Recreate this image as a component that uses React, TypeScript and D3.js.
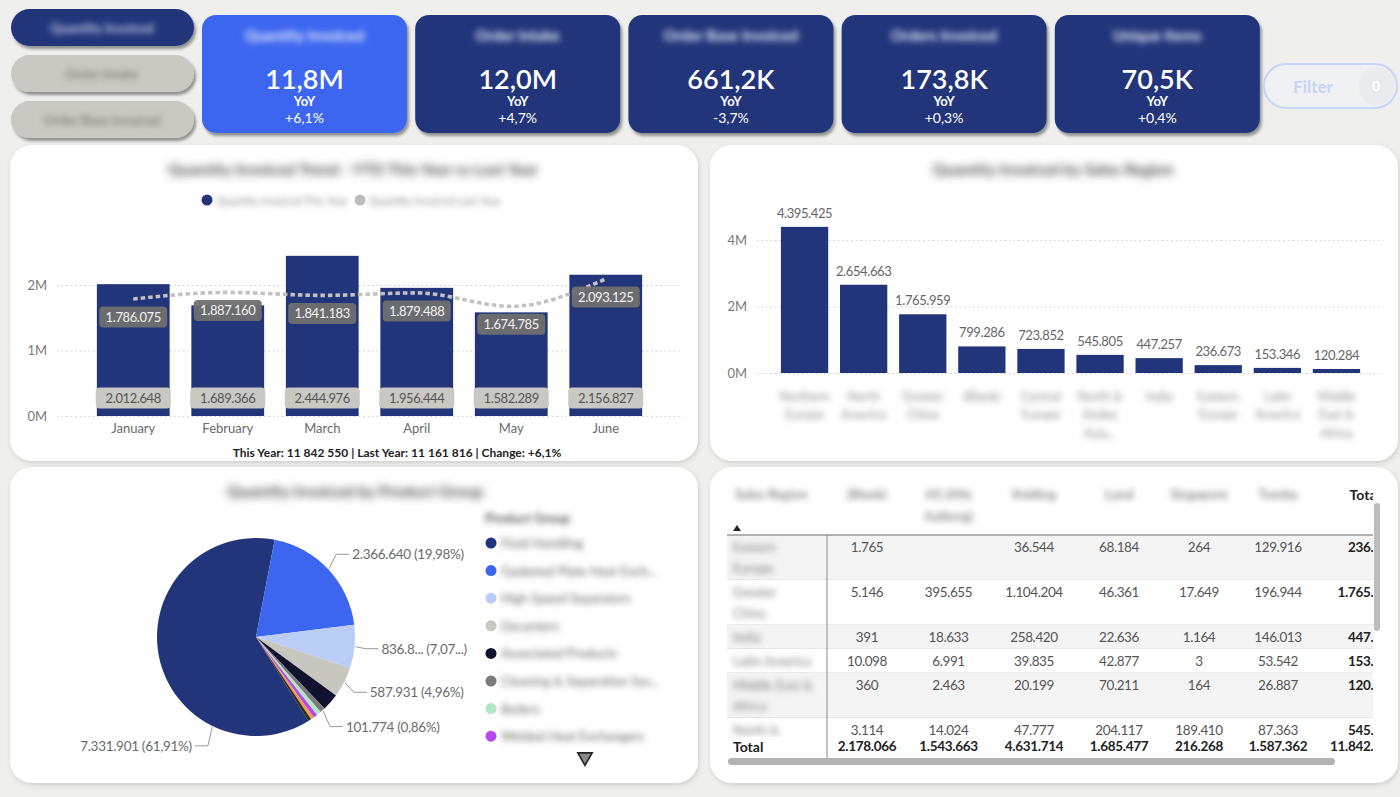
import * as d3 from "d3";
import React, { useEffect, useRef } from "react";

// Slicer buttons and KPI cards
const measureButtons = ["Quantity Invoiced", "Order Intake", "Order Base Invoiced"];
const kpiTitles = ["Quantity Invoiced", "Order Intake", "Order Base Invoiced", "Orders Invoiced", "Unique Items"];
const kpiValues = ["11,8M", "12,0M", "661,2K", "173,8K", "70,5K"];
const kpiChanges = ["+6,1%", "+4,7%", "-3,7%", "+0,3%", "+0,4%"];

// Monthly trend, this year vs last year
const months = ["January", "February", "March", "April", "May", "June"];
const thisYear = [2012648, 1689366, 2444976, 1956444, 1582289, 2156827];
const lastYear = [1786075, 1887160, 1841183, 1879488, 1674785, 2093125];

// Quantity by sales region
const regions = [
  "Northern Europe",
  "North America",
  "Greater China",
  "(Blank)",
  "Central Europe",
  "North & Andes Asia Pacific",
  "India",
  "Eastern Europe",
  "Latin America",
  "Middle East & Africa",
];
const regionValues = [4395425, 2654663, 1765959, 799286, 723852, 545805, 447257, 236673, 153346, 120284];

// Quantity by product group
const productGroups = [
  "Fluid Handling",
  "Gasketed Plate Heat Exchangers",
  "High Speed Separators",
  "Decanters",
  "Associated Products",
  "Cleaning & Separation Systems",
  "Boilers",
  "Welded Heat Exchangers",
  "Marine Systems",
  "Spare Parts",
];
const productValues = [7331901, 2366640, 836850, 587931, 331000, 101774, 86000, 82000, 60000, 58454];
const labelledGroups = ["Fluid Handling", "Gasketed Plate Heat Exchangers", "High Speed Separators", "Decanters", "Cleaning & Separation Systems"];

// Region x site matrix
const sites = ["(Blank)", "AS (Alfa\nAalborg)", "Kolding", "Lund", "Singapore", "Tumba"];
const tableRegions = ["Eastern\nEurope", "Greater\nChina", "India", "Latin America", "Middle East &\nAfrica", "North &\nAndes"];
const tableValues: (number | null)[][] = [
  [1765, null, 36544, 68184, 264, 129916],
  [5146, 395655, 1104204, 46361, 17649, 196944],
  [391, 18633, 258420, 22636, 1164, 146013],
  [10098, 6991, 39835, 42877, 3, 53542],
  [360, 2463, 20199, 70211, 164, 26887],
  [3114, 14024, 47777, 204117, 189410, 87363],
];
const siteTotals = [2178066, 1543663, 4631714, 1685477, 216268, 1587362];

const FONT = "Lato, 'Open Sans', 'DejaVu Sans', sans-serif";
const NARROW = "'Liberation Sans Narrow', Lato, sans-serif";
const NAVY = "#22357a";
const BLUE = "#3d66f0";
const productColors = ["#22357a", "#3d66f0", "#b9cdf6", "#c7c7c0", "#10122e", "#7b7b7b", "#b3e5c8", "#b847ee", "#f2a23a", "#2b2b2b"];

const dotLocale = d3.formatLocale({ decimal: ",", thousands: ".", grouping: [3], currency: ["", ""] });
const spaceLocale = d3.formatLocale({ decimal: ",", thousands: " ", grouping: [3], currency: ["", ""] });
const fmtNum = dotLocale.format(",d");
const fmtPct = dotLocale.format(".2%");
const fmtChange = dotLocale.format("+.1%");
const fmtSpace = spaceLocale.format(",d");

type Svg = d3.Selection<SVGSVGElement, unknown, null, undefined>;

const wrapWords = (label: string, maxChars: number, maxLines: number) => {
  const lines: string[] = [];
  label.split(" ").forEach((w) => {
    const last = lines[lines.length - 1];
    if (last !== undefined && (last + " " + w).length <= maxChars) lines[lines.length - 1] = last + " " + w;
    else lines.push(w);
  });
  if (lines.length > maxLines) {
    const cut = lines.slice(0, maxLines);
    cut[maxLines - 1] += "...";
    return cut;
  }
  return lines;
};

const panel = (g: d3.Selection<SVGGElement, unknown, null, undefined>, x: number, y: number) =>
  g
    .append("rect")
    .attr("x", x)
    .attr("y", y)
    .attr("width", 688)
    .attr("height", 316)
    .attr("rx", 22)
    .attr("fill", "#fff")
    .attr("filter", "url(#panelShadow)");

const drawHeader = (svg: Svg) => {
  const g = svg.append("g");

  measureButtons.forEach((label, i) => {
    const top = 9 + i * 46;
    g.append("rect")
      .attr("x", 11)
      .attr("y", top)
      .attr("width", 183)
      .attr("height", 37)
      .attr("rx", 18.5)
      .attr("fill", i === 0 ? NAVY : "#cac8c2")
      .attr("filter", "url(#cardShadow)");
    g.append("text")
      .attr("x", 102)
      .attr("y", top + 19)
      .attr("text-anchor", "middle")
      .attr("dominant-baseline", "central")
      .attr("font-size", 13)
      .attr("font-weight", 700)
      .attr("fill", i === 0 ? "#c4cbe4" : "#85837e")
      .attr("filter", "url(#blur)")
      .text(label);
  });

  kpiTitles.forEach((title, i) => {
    const left = 202 + i * 213.2;
    const cx = left + 102.5;
    g.append("rect")
      .attr("x", left)
      .attr("y", 15)
      .attr("width", 205)
      .attr("height", 118)
      .attr("rx", 14)
      .attr("fill", i === 0 ? BLUE : NAVY)
      .attr("filter", "url(#cardShadow)");
    const t = (y: number, size: number, weight: number, text: string) =>
      g
        .append("text")
        .attr("x", cx)
        .attr("y", y)
        .attr("text-anchor", "middle")
        .attr("dominant-baseline", "central")
        .attr("font-size", size)
        .attr("font-weight", weight)
        .attr("fill", "#fff")
        .text(text);
    t(35, 15, 700, title).attr("fill", "#e8ecf8").attr("filter", "url(#blur)");
    t(78, 27, 600, kpiValues[i]);
    t(101, 13, 700, "YoY");
    t(117, 14, 400, kpiChanges[i]);
  });

  g.append("rect")
    .attr("x", 1264)
    .attr("y", 64)
    .attr("width", 133)
    .attr("height", 44)
    .attr("rx", 22)
    .attr("fill", "#f0f1f2")
    .attr("stroke", "#c6d4f7")
    .attr("stroke-width", 2);
  g.append("rect").attr("x", 1359).attr("y", 67).attr("width", 35).attr("height", 38).attr("rx", 17).attr("fill", "#e9ebef");
  g.append("text")
    .attr("x", 1313)
    .attr("y", 86)
    .attr("text-anchor", "middle")
    .attr("dominant-baseline", "central")
    .attr("font-size", 17)
    .attr("font-weight", 700)
    .attr("fill", "#c6d4f7")
    .text("Filter");
  g.append("text")
    .attr("x", 1376)
    .attr("y", 85)
    .attr("text-anchor", "middle")
    .attr("dominant-baseline", "central")
    .attr("font-size", 14)
    .attr("font-weight", 700)
    .attr("fill", "#fff")
    .text("0");
};

const blurredTitle = (g: d3.Selection<SVGGElement, unknown, null, undefined>, x: number, y: number, text: string) =>
  g
    .append("text")
    .attr("x", x)
    .attr("y", y)
    .attr("text-anchor", "middle")
    .attr("dominant-baseline", "central")
    .attr("font-size", 16)
    .attr("font-weight", 700)
    .attr("fill", "#4a4a4a")
    .attr("filter", "url(#blurHeavy)")
    .text(text);

const drawTrend = (svg: Svg) => {
  const g = svg.append("g");
  panel(g, 10, 145);
  blurredTitle(g, 353, 168, "Quantity Invoiced Trend - YTD This Year vs Last Year");

  [
    { x: 207, color: NAVY, text: "Quantity Invoiced This Year" },
    { x: 360, color: "#bdbdbd", text: "Quantity Invoiced Last Year" },
  ].forEach((l) => {
    g.append("circle").attr("cx", l.x).attr("cy", 200).attr("r", 5.5).attr("fill", l.color);
    g.append("text")
      .attr("x", l.x + 9)
      .attr("y", 200)
      .attr("dominant-baseline", "central")
      .attr("font-size", 11)
      .attr("fill", "#8a8a8a")
      .attr("filter", "url(#blur)")
      .text(l.text);
  });

  const x = d3.scaleBand<string>().domain(months).range([86, 653]).paddingInner(0.23).paddingOuter(0.115);
  const y = d3.scaleLinear().domain([0, 2e6]).range([416, 285]);
  const bw = x.bandwidth();
  const cxOf = (m: string) => (x(m) ?? 0) + bw / 2;

  g.append("g")
    .attr("transform", "translate(57,0)")
    .call(
      d3
        .axisLeft(y)
        .ticks(2)
        .tickSize(-626)
        .tickPadding(10)
        .tickFormat((d) => `${+d / 1e6}M`)
    )
    .attr("font-family", FONT)
    .attr("font-size", 13)
    .call((a) => a.select(".domain").remove())
    .call((a) => a.selectAll("line").attr("stroke", "#cfcfcf").attr("stroke-dasharray", "1.5 3"))
    .call((a) => a.selectAll("text").attr("fill", "#7a7a7a"));

  g.append("g")
    .attr("transform", "translate(0,416)")
    .call(d3.axisBottom(x).tickSize(0).tickPadding(8))
    .attr("font-family", FONT)
    .attr("font-size", 13)
    .call((a) => a.select(".domain").remove())
    .call((a) => a.selectAll("text").attr("fill", "#6a6a6a"));

  g.append("g")
    .selectAll("rect")
    .data(thisYear)
    .join("rect")
    .attr("x", (_, i) => x(months[i]) ?? 0)
    .attr("y", (d) => y(d))
    .attr("width", bw)
    .attr("height", (d) => y(0) - y(d))
    .attr("fill", NAVY);

  const line = d3
    .line<number>()
    .x((_, i) => cxOf(months[i]))
    .y((d) => y(d))
    .curve(d3.curveMonotoneX);
  g.append("path")
    .attr("d", line(lastYear))
    .attr("fill", "none")
    .attr("stroke", "#c2c2c2")
    .attr("stroke-width", 3.6)
    .attr("stroke-dasharray", "4.5 3");

  // last-year value tags hang just under the dotted line
  lastYear.forEach((v, i) => {
    const cx = cxOf(months[i]);
    const cy = y(v) + 18;
    g.append("rect").attr("x", cx - 34).attr("y", cy - 10.5).attr("width", 68).attr("height", 21).attr("rx", 4).attr("fill", "#707070").attr("opacity", 0.95);
    g.append("text")
      .attr("x", cx)
      .attr("y", cy)
      .attr("text-anchor", "middle")
      .attr("dominant-baseline", "central")
      .attr("font-size", 13)
      .attr("letter-spacing", -0.4)
      .attr("fill", "#f4f4f4")
      .text(fmtNum(v));
  });

  // this-year value tags sit at the foot of each bar
  thisYear.forEach((v, i) => {
    const cx = cxOf(months[i]);
    const cy = y(0) - 18;
    g.append("rect").attr("x", cx - 37.5).attr("y", cy - 10.5).attr("width", 75).attr("height", 21).attr("rx", 4).attr("fill", "#c9c8c3");
    g.append("text")
      .attr("x", cx)
      .attr("y", cy)
      .attr("text-anchor", "middle")
      .attr("dominant-baseline", "central")
      .attr("font-size", 13)
      .attr("letter-spacing", -0.4)
      .attr("fill", "#555")
      .text(fmtNum(v));
  });

  const tyTotal = d3.sum(thisYear);
  const lyTotal = d3.sum(lastYear);
  g.append("text")
    .attr("x", 397)
    .attr("y", 452)
    .attr("text-anchor", "middle")
    .attr("dominant-baseline", "central")
    .attr("font-family", NARROW)
    .attr("font-size", 12)
    .attr("font-weight", 700)
    .attr("fill", "#222")
    .text(`This Year: ${fmtSpace(tyTotal)} | Last Year: ${fmtSpace(lyTotal)} | Change: ${fmtChange(tyTotal / lyTotal - 1)}`);
};

const drawRegions = (svg: Svg) => {
  const g = svg.append("g");
  panel(g, 710, 145);
  blurredTitle(g, 1053, 168, "Quantity Invoiced by Sales Region");

  const x = d3.scaleBand<string>().domain(regions).range([775, 1366]).paddingInner(0.2).paddingOuter(0.1);
  const y = d3.scaleLinear().domain([0, 4e6]).range([373, 240]);
  const bw = x.bandwidth();

  g.append("g")
    .attr("transform", "translate(757,0)")
    .call(
      d3
        .axisLeft(y)
        .ticks(2)
        .tickSize(-626)
        .tickPadding(10)
        .tickFormat((d) => `${+d / 1e6}M`)
    )
    .attr("font-family", FONT)
    .attr("font-size", 13)
    .call((a) => a.select(".domain").remove())
    .call((a) => a.selectAll("line").attr("stroke", "#cfcfcf").attr("stroke-dasharray", "1.5 3"))
    .call((a) => a.selectAll("text").attr("fill", "#7a7a7a"));

  g.append("g")
    .selectAll("rect")
    .data(regionValues)
    .join("rect")
    .attr("x", (_, i) => x(regions[i]) ?? 0)
    .attr("y", (d) => y(d))
    .attr("width", bw)
    .attr("height", (d) => y(0) - y(d))
    .attr("fill", NAVY);

  regionValues.forEach((v, i) => {
    const cx = (x(regions[i]) ?? 0) + bw / 2;
    g.append("text")
      .attr("x", cx)
      .attr("y", y(v) - 14)
      .attr("text-anchor", "middle")
      .attr("dominant-baseline", "central")
      .attr("font-size", 13)
      .attr("letter-spacing", -0.4)
      .attr("fill", "#666")
      .text(fmtNum(v));
    wrapWords(regions[i], 8, 3).forEach((ln, k) => {
      g.append("text")
        .attr("x", cx)
        .attr("y", 396 + k * 18.5)
        .attr("text-anchor", "middle")
        .attr("dominant-baseline", "central")
        .attr("font-size", 12.5)
        .attr("fill", "#8f8f8f")
        .attr("filter", "url(#blur)")
        .text(ln);
    });
  });
};

const drawProducts = (svg: Svg) => {
  const g = svg.append("g");
  panel(g, 10, 467);
  blurredTitle(g, 355, 490, "Quantity Invoiced by Product Group");

  const cx = 256;
  const cy = 637;
  const r = 99;
  const total = d3.sum(productValues);
  const start = (-212 * Math.PI) / 180;
  const arcs = d3
    .pie<number>()
    .sort(null)
    .startAngle(start)
    .endAngle(start + 2 * Math.PI)(productValues);
  const arc = d3.arc<d3.PieArcDatum<number>>().innerRadius(0).outerRadius(r);

  g.append("g")
    .attr("transform", `translate(${cx},${cy})`)
    .selectAll("path")
    .data(arcs)
    .join("path")
    .attr("d", arc)
    .attr("fill", (_, i) => productColors[i]);

  const legendX = 485;
  arcs.forEach((d, i) => {
    if (!labelledGroups.includes(productGroups[i])) return;
    const share = d.value / total;
    // the dominant slice hangs its label off its lower edge
    const a = share > 0.5 ? d.startAngle + (d.endAngle - d.startAngle) * 0.26 : (d.startAngle + d.endAngle) / 2;
    const sin = Math.sin(a);
    const cos = Math.cos(a);
    const ax = cx + (r + 1) * sin;
    const ay = cy - (r + 1) * cos;
    const bx = cx + (r + 11) * sin;
    const by = cy - (r + 11) * 1.1 * cos;
    const right = sin >= 0;
    const ex = bx + (right ? 13 : -13);
    g.append("polyline")
      .attr("points", `${ax},${ay} ${bx},${by} ${ex},${by}`)
      .attr("fill", "none")
      .attr("stroke", "#9a9a9a")
      .attr("stroke-width", 1);
    const tx = ex + (right ? 3 : -3);
    const t = g
      .append("text")
      .attr("x", tx)
      .attr("y", by)
      .attr("text-anchor", right ? "start" : "end")
      .attr("dominant-baseline", "central")
      .attr("font-size", 13.5)
      .attr("letter-spacing", -0.3)
      .attr("fill", "#6b6b6b")
      .text(`${fmtNum(d.value)} (${fmtPct(share)})`);
    const node = t.node();
    // labels that would run into the legend get shortened
    if (right && node && tx + node.getComputedTextLength() > legendX - 14) {
      t.text(`${fmtNum(d.value).slice(0, 5)}... (${fmtPct(share).slice(0, 4)}...)`);
    }
  });

  g.append("text")
    .attr("x", legendX)
    .attr("y", 518)
    .attr("dominant-baseline", "central")
    .attr("font-size", 13)
    .attr("font-weight", 700)
    .attr("fill", "#555")
    .attr("filter", "url(#blur)")
    .text("Product Group");

  productGroups.slice(0, 8).forEach((name, i) => {
    const ly = 543 + i * 27.6;
    g.append("circle").attr("cx", legendX + 6).attr("cy", ly).attr("r", 5.5).attr("fill", productColors[i]);
    const t = g
      .append("text")
      .attr("x", legendX + 16)
      .attr("y", ly)
      .attr("dominant-baseline", "central")
      .attr("font-size", 13)
      .attr("fill", "#666")
      .attr("filter", "url(#blur)")
      .text(name);
    const node = t.node();
    if (node && node.getComputedTextLength() > 160) {
      let s = name;
      while (s.length > 3 && node.getComputedTextLength() > 160) {
        s = s.slice(0, -1);
        t.text(s + "...");
      }
    }
  });

  g.append("path")
    .attr("d", d3.symbol(d3.symbolTriangle, 90)())
    .attr("transform", "translate(585,757) rotate(180)")
    .attr("fill", "#8a8a8a")
    .attr("stroke", "#222")
    .attr("stroke-width", 1.6);
};

const drawTable = (svg: Svg) => {
  const g = svg.append("g");
  panel(g, 710, 467);

  svg
    .select("defs")
    .append("clipPath")
    .attr("id", "tableClip")
    .append("rect")
    .attr("x", 722)
    .attr("y", 480)
    .attr("width", 651)
    .attr("height", 280);

  const colEdges = [727, 827, 907, 990, 1078, 1160, 1238, 1318];
  const siteX = sites.map((_, j) => (colEdges[j + 1] + colEdges[j + 2]) / 2);
  const totalRight = 1396;
  const totalsTop = 737;
  const body = g.append("g").attr("clip-path", "url(#tableClip)");

  const blurText = (x: number, y: number, text: string, anchor: string) =>
    body
      .append("text")
      .attr("x", x)
      .attr("y", y)
      .attr("text-anchor", anchor)
      .attr("dominant-baseline", "central")
      .attr("font-size", 13)
      .attr("font-weight", 700)
      .attr("fill", "#8a8a8a")
      .attr("filter", "url(#blur)")
      .text(text);
  blurText(735, 494, "Sales Region", "start");
  sites.forEach((s, j) => s.split("\n").forEach((ln, k) => blurText(siteX[j], 494 + k * 22, ln, "middle")));
  body
    .append("text")
    .attr("x", 1380)
    .attr("y", 494)
    .attr("text-anchor", "end")
    .attr("dominant-baseline", "central")
    .attr("font-size", 14)
    .attr("font-weight", 700)
    .attr("fill", "#222")
    .text("Total");
  body.append("path").attr("d", "M733,531L741,531L737,525Z").attr("fill", "#222");

  let top = 535;
  tableValues.forEach((row, i) => {
    const lines = tableRegions[i].split("\n");
    const h = 3 + 21 * lines.length;
    body
      .append("rect")
      .attr("x", 727)
      .attr("y", top)
      .attr("width", 660)
      .attr("height", h)
      .attr("fill", i % 2 === 0 ? "#f4f4f4" : "#fff");
    body.append("line").attr("x1", 727).attr("x2", 1390).attr("y1", top + h).attr("y2", top + h).attr("stroke", "#dadada");
    lines.forEach((ln, k) => {
      const ty = top + 12 + k * 21;
      // anything under the pinned totals row is hidden
      if (ty > totalsTop) return;
      body
        .append("text")
        .attr("x", 733)
        .attr("y", ty)
        .attr("dominant-baseline", "central")
        .attr("font-size", 13)
        .attr("fill", "#7a7a7a")
        .attr("filter", "url(#blur)")
        .text(ln);
    });
    row.forEach((v, j) => {
      if (v === null) return;
      body
        .append("text")
        .attr("x", siteX[j])
        .attr("y", top + 12)
        .attr("text-anchor", "middle")
        .attr("dominant-baseline", "central")
        .attr("font-size", 13.5)
        .attr("letter-spacing", -0.4)
        .attr("fill", "#555")
        .text(fmtNum(v));
    });
    body
      .append("text")
      .attr("x", totalRight)
      .attr("y", top + 12)
      .attr("text-anchor", "end")
      .attr("dominant-baseline", "central")
      .attr("font-size", 13.5)
      .attr("font-weight", 700)
      .attr("letter-spacing", -0.3)
      .attr("fill", "#222")
      .text(fmtNum(d3.sum(row, (v) => v ?? 0)));
    top += h;
  });

  // totals row stays pinned to the bottom
  body.append("rect").attr("x", 727).attr("y", totalsTop).attr("width", 660).attr("height", 22).attr("fill", "#fff");
  body
    .append("text")
    .attr("x", 733)
    .attr("y", 746)
    .attr("dominant-baseline", "central")
    .attr("font-size", 14)
    .attr("font-weight", 700)
    .attr("fill", "#222")
    .text("Total");
  siteTotals.forEach((v, j) => {
    body
      .append("text")
      .attr("x", siteX[j])
      .attr("y", 746)
      .attr("text-anchor", "middle")
      .attr("dominant-baseline", "central")
      .attr("font-size", 13.5)
      .attr("font-weight", 700)
      .attr("letter-spacing", -0.3)
      .attr("fill", "#222")
      .text(fmtNum(v));
  });
  body
    .append("text")
    .attr("x", totalRight)
    .attr("y", 746)
    .attr("text-anchor", "end")
    .attr("dominant-baseline", "central")
    .attr("font-size", 13.5)
    .attr("font-weight", 700)
    .attr("letter-spacing", -0.3)
    .attr("fill", "#222")
    .text(fmtNum(d3.sum(siteTotals)));

  g.append("line").attr("x1", 727).attr("x2", 1373).attr("y1", 535).attr("y2", 535).attr("stroke", "#999").attr("stroke-width", 1.3);
  g.append("line").attr("x1", 827).attr("x2", 827).attr("y1", 535).attr("y2", 758).attr("stroke", "#8a8a8a");

  g.append("rect").attr("x", 1374).attr("y", 503).attr("width", 6).attr("height", 128).attr("rx", 3).attr("fill", "#bcbcbc");
  g.append("rect").attr("x", 728).attr("y", 758).attr("width", 607).attr("height", 7).attr("rx", 3.5).attr("fill", "#b3b3b3");
};

const App: React.FC = () => {
  const svgRef = useRef<SVGSVGElement>(null);

  useEffect(() => {
    document.body.style.margin = "0";
    document.body.style.overflow = "hidden";
    if (!svgRef.current) return;
    const svg = d3.select(svgRef.current) as Svg;
    svg.selectAll("*").remove();
    svg.style("font-family", FONT);

    const defs = svg.append("defs");
    const addBlur = (id: string, sd: number) =>
      defs
        .append("filter")
        .attr("id", id)
        .attr("x", "-20%")
        .attr("y", "-100%")
        .attr("width", "140%")
        .attr("height", "300%")
        .append("feGaussianBlur")
        .attr("stdDeviation", sd);
    addBlur("blur", 3.2);
    addBlur("blurHeavy", 4);
    const addShadow = (id: string, dx: number, dy: number, sd: number, op: number) =>
      defs
        .append("filter")
        .attr("id", id)
        .attr("x", "-5%")
        .attr("y", "-5%")
        .attr("width", "115%")
        .attr("height", "125%")
        .append("feDropShadow")
        .attr("dx", dx)
        .attr("dy", dy)
        .attr("stdDeviation", sd)
        .attr("flood-color", "#000")
        .attr("flood-opacity", op);
    addShadow("cardShadow", 2, 3, 1.8, 0.4);
    addShadow("panelShadow", 1, 2, 2.5, 0.14);

    svg.append("rect").attr("width", 1400).attr("height", 797).attr("fill", "#efefed");

    drawHeader(svg);
    drawTrend(svg);
    drawRegions(svg);
    drawProducts(svg);
    drawTable(svg);
  }, []);

  return <svg ref={svgRef} width={1400} height={797} style={{ display: "block" }} />;
};

export default App;
